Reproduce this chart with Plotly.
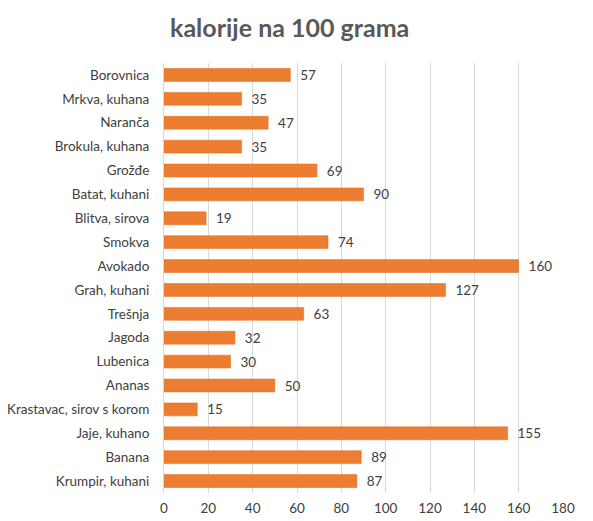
import plotly.graph_objs as go

# food items, top to bottom as shown
foods = [
    "Borovnica", "Mrkva, kuhana", "Naranča", "Brokula, kuhana", "Grožđe",
    "Batat, kuhani", "Blitva, sirova", "Smokva", "Avokado", "Grah, kuhani",
    "Trešnja", "Jagoda", "Lubenica", "Ananas", "Krastavac, sirov s korom",
    "Jaje, kuhano", "Banana", "Krumpir, kuhani",
]
kcal = [57, 35, 47, 35, 69, 90, 19, 74, 160, 127, 63, 32, 30, 50, 15, 155, 89, 87]

x_ticks = [0, 20, 40, 60, 80, 100, 120, 140, 160, 180]

font_name = "Lato, Noto Sans, sans-serif"

fig = go.Figure()
fig.add_trace(go.Bar(
    y=foods,
    x=kcal,
    orientation="h",
    width=0.54,
    marker=dict(color="#ED7D31", line=dict(color="#D86A20", width=0.5)),
    # non-breaking spaces push the value labels away from the bar ends
    text=["\u00a0\u00a0" + str(v) for v in kcal],
    textposition="outside",
    constraintext="none",
    textfont=dict(size=13.5, color="#404040", family=font_name),
    cliponaxis=False,
))

# the page adds an 8px body margin, so margins are offset by that amount
fig.update_layout(
    width=593, height=521,
    margin=dict(l=156, r=38, t=55, b=36),
    paper_bgcolor="white",
    plot_bgcolor="white",
    showlegend=False,
    font=dict(family=font_name, size=13.5, color="#404040"),
    title=dict(
        text="<b>kalorije na 100 grama</b>",
        x=0.475, xanchor="center",
        y=0.962, yanchor="middle",
        font=dict(size=25, color="#595959", family=font_name),
    ),
)
fig.update_xaxes(
    range=[0, 180],
    tickvals=x_ticks,
    showgrid=True, gridcolor="#D9D9D9", gridwidth=1,
    zeroline=False,
    showline=False,
    ticks="",
    automargin=False,
    ticklabelstandoff=5,
    tickfont=dict(size=13.5, color="#404040"),
    fixedrange=True,
)
fig.update_yaxes(
    autorange="reversed",
    showgrid=False,
    showline=True, linecolor="#D9D9D9", linewidth=1,
    ticks="",
    automargin=False,
    ticklabelstandoff=11,
    tickfont=dict(size=13.5, color="#404040"),
    fixedrange=True,
)

fig.write_html("out.html")
